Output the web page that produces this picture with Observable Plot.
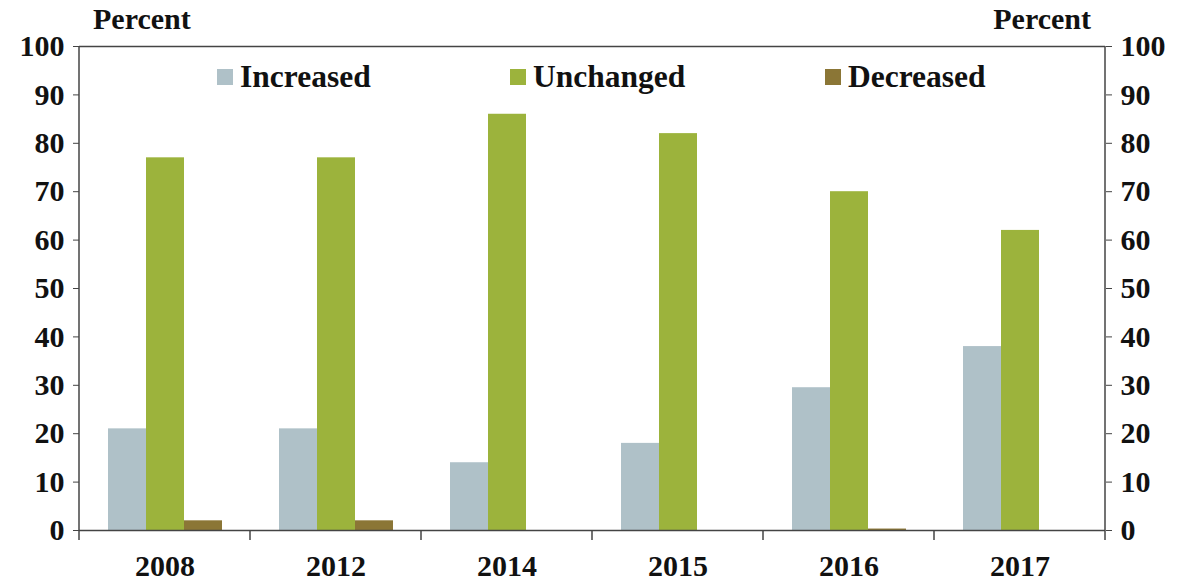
<!DOCTYPE html>
<html><head><meta charset="utf-8">
<script src="https://cdn.jsdelivr.net/npm/d3@7"></script>
<script src="https://cdn.jsdelivr.net/npm/@observablehq/plot@0.6"></script>
<style>
body{margin:0;background:#fff;}
#wrap{position:relative;width:1184px;height:584px;font-family:"Liberation Serif",serif;font-weight:bold;color:#111;}
.lbl{position:absolute;font-size:30px;line-height:30px;white-space:nowrap;}
.leg{position:absolute;font-size:31.5px;line-height:30px;white-space:nowrap;}
.sw{position:absolute;width:16px;height:16px;}
</style></head><body><div id="wrap"></div>
<script>
const years = ["2008", "2012", "2014", "2015", "2016", "2017"];
const series = ["Increased", "Unchanged", "Decreased"];
const increased = [21, 21, 14, 18, 29.5, 38];
const unchanged = [77, 77, 86, 82, 70, 62];
const decreased = [2, 2, 0, 0, 0.3, 0];
const colors = ["#afc1c8", "#9cb33c", "#8b7636"];
const yTicks = [0, 10, 20, 30, 40, 50, 60, 70, 80, 90, 100];
const axisTitle = "Percent";

const values = [increased, unchanged, decreased];
const data = years.flatMap((yr, i) => series.map((s, j) => ({year: yr, series: s, value: values[j][i]})));

const W = 1184, H = 584, mL = 78, mR = 78, mT = 46, mB = 54;
const chart = Plot.plot({
  width: W, height: H, marginLeft: mL, marginRight: mR, marginTop: mT, marginBottom: mB,
  style: {fontFamily: "'Liberation Serif', serif", fontWeight: "bold", fontSize: "30px", color: "#111", background: "#fff", overflow: "visible"},
  fx: {domain: years, padding: 0, label: null, tickSize: 0, tickPadding: 24},
  x: {domain: series, paddingInner: 0, paddingOuter: 0.75, axis: null},
  y: {domain: [0, 100], axis: null},
  color: {domain: series, range: colors},
  marks: [
    Plot.barY(data, {fx: "year", x: "series", y: "value", fill: "series", inset: 0}),
    Plot.ruleY([0, 100], {stroke: "#444", strokeWidth: 1.5}),
    Plot.axisY({anchor: "left", ticks: yTicks, tickSize: 6, tickPadding: 9, label: null, stroke: "#444"}),
    Plot.axisY({anchor: "right", ticks: yTicks, tickSize: 6, tickPadding: 9, label: null, stroke: "#444"})
  ]
});
const wrap = document.getElementById("wrap");
wrap.appendChild(chart);

// axis lines and category boundary ticks, from the plot's own scales
const fx = chart.scale("fx"), y = chart.scale("y");
const y0 = y.apply(0), y1 = y.apply(100);
const svg = d3.select(chart);
const bounds = years.map(v => fx.apply(v)).concat([fx.apply(years[years.length - 1]) + fx.bandwidth]);
const g = svg.append("g").attr("stroke", "#444").attr("stroke-width", 1.5);
g.append("line").attr("x1", bounds[0]).attr("x2", bounds[0]).attr("y1", y1).attr("y2", y0);
g.append("line").attr("x1", bounds[bounds.length - 1]).attr("x2", bounds[bounds.length - 1]).attr("y1", y1).attr("y2", y0);
bounds.forEach(b => g.append("line").attr("x1", b).attr("x2", b).attr("y1", y0).attr("y2", y0 + 10));

// axis titles
const t1 = document.createElement("div"); t1.className = "lbl"; t1.textContent = axisTitle;
t1.style.left = "93px"; t1.style.top = "4px"; wrap.appendChild(t1);
const t2 = document.createElement("div"); t2.className = "lbl"; t2.textContent = axisTitle;
t2.style.right = "93px"; t2.style.top = "4px"; wrap.appendChild(t2);

// legend
const legX = [217, 510, 825];
series.forEach((s, i) => {
  const sw = document.createElement("div"); sw.className = "sw";
  sw.style.left = legX[i] + "px"; sw.style.top = "69px"; sw.style.background = colors[i];
  wrap.appendChild(sw);
  const tx = document.createElement("div"); tx.className = "leg"; tx.textContent = s;
  tx.style.left = (legX[i] + 23) + "px"; tx.style.top = "62px";
  wrap.appendChild(tx);
});
</script></body></html>
